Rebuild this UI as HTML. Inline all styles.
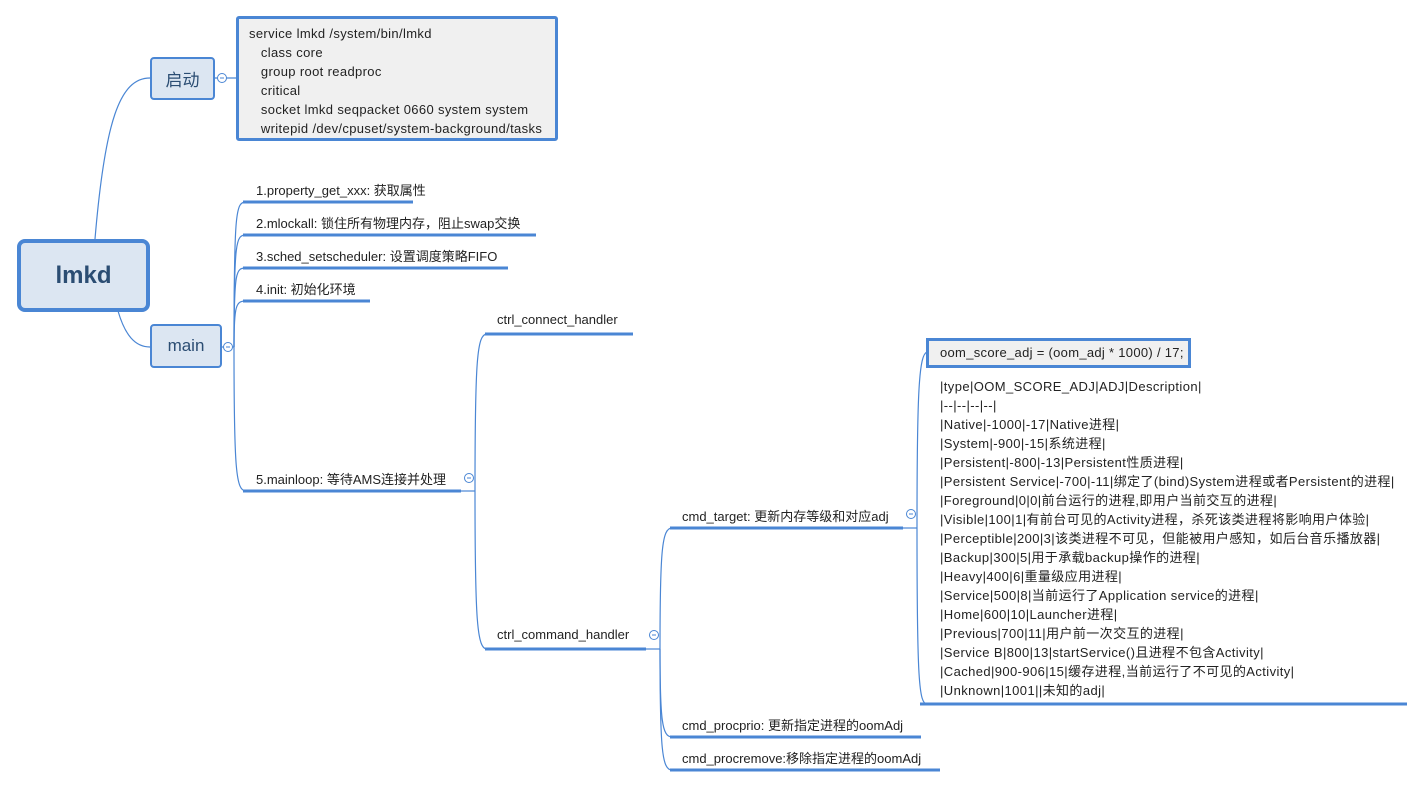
<!DOCTYPE html>
<html><head><meta charset="utf-8"><style>
body{margin:0;width:1425px;height:787px;background:#fff;position:relative;overflow:hidden;font-family:"Liberation Sans","Noto Sans CJK SC",sans-serif;font-size:13px;color:#222}
.a{position:absolute;white-space:nowrap}
.box{position:absolute;box-sizing:border-box;background:#dce6f2;border:2px solid #4a86d4;border-radius:4px;display:flex;align-items:center;justify-content:center;color:#2b4d73}
</style></head><body>
<svg class="a" style="left:0;top:0" width="1425" height="787">
<g fill="none" stroke="#4a86d4" stroke-width="1.2">
<path d="M95 239 C105 120 120 78 150 78"/>
<path d="M118 311 C125 335 135 347 150 347"/>
<line x1="215" y1="78" x2="237" y2="78"/>
<line x1="221" y1="347" x2="234" y2="347"/>
<path d="M234 347 C234 210 236 202 246 202"/>
<path d="M234 347 C234 240 236 235 246 235"/>
<path d="M234 347 C234 270 236 268 246 268"/>
<path d="M234 347 C234 305 236 301 246 301"/>
<path d="M234 347 C234 470 236 491 246 491"/>
<line x1="461" y1="491" x2="475" y2="491"/>
<path d="M475 491 C475 360 477 334 487 334"/>
<path d="M475 491 C475 620 477 649 487 649"/>
<line x1="646" y1="649" x2="660" y2="649"/>
<path d="M660 649 C660 550 662 528 672 528"/>
<path d="M660 649 C660 720 662 737 672 737"/>
<path d="M660 649 C660 750 662 770 672 770"/>
<line x1="903" y1="528" x2="917" y2="528"/>
<path d="M917 528 C917 390 919 355 927 352"/>
<path d="M917 528 C917 680 919 704 927 704"/>
</g>
<g stroke="#4a86d4" stroke-width="3">
<line x1="243" y1="202" x2="413" y2="202"/>
<line x1="243" y1="235" x2="536" y2="235"/>
<line x1="243" y1="268" x2="508" y2="268"/>
<line x1="243" y1="301" x2="370" y2="301"/>
<line x1="243" y1="491" x2="461" y2="491"/>
<line x1="485" y1="334" x2="633" y2="334"/>
<line x1="485" y1="649" x2="646" y2="649"/>
<line x1="670" y1="528" x2="903" y2="528"/>
<line x1="670" y1="737" x2="921" y2="737"/>
<line x1="670" y1="770" x2="940" y2="770"/>
<line x1="920" y1="704" x2="1407" y2="704"/>
</g>
<g fill="#fff" stroke="#4a86d4" stroke-width="1">
<circle cx="222" cy="78" r="4.5"/><circle cx="228" cy="347" r="4.5"/><circle cx="469" cy="478" r="4.5"/><circle cx="654" cy="635" r="4.5"/><circle cx="911" cy="514" r="4.5"/>
</g>
<g stroke="#4a86d4" stroke-width="1">
<line x1="220" y1="78" x2="224" y2="78"/><line x1="226" y1="347" x2="230" y2="347"/><line x1="467" y1="478" x2="471" y2="478"/><line x1="652" y1="635" x2="656" y2="635"/><line x1="909" y1="514" x2="913" y2="514"/>
</g>
</svg>
<div class="box" style="left:17px;top:239px;width:133px;height:73px;border-width:4px;border-radius:8px;font-size:24px;font-weight:bold">lmkd</div>
<div class="box" style="left:150px;top:57px;width:65px;height:43px;font-size:17px">启动</div>
<div class="box" style="left:150px;top:324px;width:72px;height:44px;font-size:17px">main</div>
<div class="a" style="left:236px;top:16px;width:322px;height:125px;box-sizing:border-box;background:#f0f0f0;border:3px solid #4a86d4;border-radius:3px;padding:5px 0 0 10px;line-height:19px;letter-spacing:0.35px">service lmkd /system/bin/lmkd<br>&nbsp;&nbsp;&nbsp;class core<br>&nbsp;&nbsp;&nbsp;group root readproc<br>&nbsp;&nbsp;&nbsp;critical<br>&nbsp;&nbsp;&nbsp;socket lmkd seqpacket 0660 system system<br>&nbsp;&nbsp;&nbsp;writepid /dev/cpuset/system-background/tasks</div>
<div class="a" style="left:256px;top:180px">1.property_get_xxx: 获取属性</div>
<div class="a" style="left:256px;top:213px">2.mlockall: 锁住所有物理内存，阻止swap交换</div>
<div class="a" style="left:256px;top:246px">3.sched_setscheduler: 设置调度策略FIFO</div>
<div class="a" style="left:256px;top:279px">4.init: 初始化环境</div>
<div class="a" style="left:256px;top:469px">5.mainloop: 等待AMS连接并处理</div>
<div class="a" style="left:497px;top:312px">ctrl_connect_handler</div>
<div class="a" style="left:497px;top:627px">ctrl_command_handler</div>
<div class="a" style="left:682px;top:506px">cmd_target: 更新内存等级和对应adj</div>
<div class="a" style="left:682px;top:715px">cmd_procprio: 更新指定进程的oomAdj</div>
<div class="a" style="left:682px;top:748px">cmd_procremove:移除指定进程的oomAdj</div>
<div class="a" style="left:926px;top:338px;width:265px;height:30px;box-sizing:border-box;background:#f0f0f0;border:3px solid #4a86d4;padding:4px 0 0 11px;letter-spacing:0.3px">oom_score_adj = (oom_adj * 1000) / 17;</div>
<div class="a" style="left:940px;top:377px;line-height:19px;letter-spacing:0.4px">|type|OOM_SCORE_ADJ|ADJ|Description|<br>|--|--|--|--|<br>|Native|-1000|-17|Native进程|<br>|System|-900|-15|系统进程|<br>|Persistent|-800|-13|Persistent性质进程|<br>|Persistent Service|-700|-11|绑定了(bind)System进程或者Persistent的进程|<br>|Foreground|0|0|前台运行的进程,即用户当前交互的进程|<br>|Visible|100|1|有前台可见的Activity进程，杀死该类进程将影响用户体验|<br>|Perceptible|200|3|该类进程不可见，但能被用户感知，如后台音乐播放器|<br>|Backup|300|5|用于承载backup操作的进程|<br>|Heavy|400|6|重量级应用进程|<br>|Service|500|8|当前运行了Application service的进程|<br>|Home|600|10|Launcher进程|<br>|Previous|700|11|用户前一次交互的进程|<br>|Service B|800|13|startService()且进程不包含Activity|<br>|Cached|900-906|15|缓存进程,当前运行了不可见的Activity|<br>|Unknown|1001||未知的adj|</div>
</body></html>
